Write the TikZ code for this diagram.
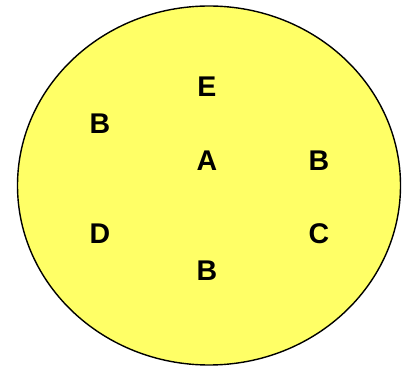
\documentclass[tikz,border=0pt]{standalone}
\usepackage{fontspec}
\setmainfont{Liberation Sans}
\definecolor{lightyellow}{HTML}{FFFF66}

\begin{document}
\begin{tikzpicture}
[
	letter/.style={font=\fontsize{28.5}{30}\selectfont\bfseries,anchor=base,inner sep=0pt},
	x=1pt,y=-1pt
]

	\useasboundingbox (0,0) rectangle (402,366);

	% the set
	\draw[fill=lightyellow,line width=1.4pt] (209,185.5) ellipse [x radius=191.5,y radius=179.5];

	% elements
	\node[letter] (e) at (207,97) {E};
	\node[letter] (b1) at (100,134) {B};
	\node[letter] (a) at (207,171) {A};
	\node[letter] (b2) at (319,171) {B};
	\node[letter] (d) at (100,244) {D};
	\node[letter] (c) at (319,244) {C};
	\node[letter] (b3) at (207,281) {B};

\end{tikzpicture}
\end{document}
